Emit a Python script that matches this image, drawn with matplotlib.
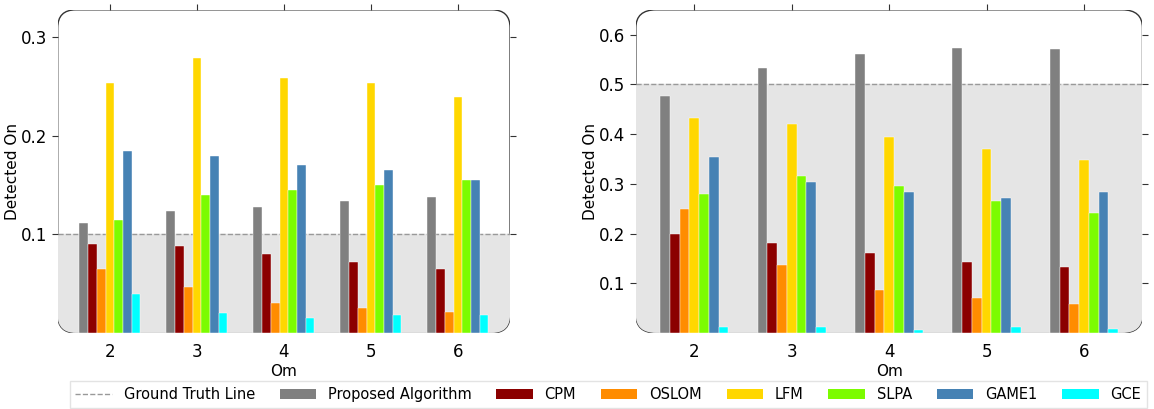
import matplotlib.pyplot as plt
from matplotlib.patches import FancyBboxPatch, Patch
from matplotlib.lines import Line2D
import numpy as np

om_values = [2, 3, 4, 5, 6]
methods = ['Proposed Algorithm', 'CPM', 'OSLOM', 'LFM', 'SLPA', 'GAME1', 'GCE']
colors = ['gray', 'darkred', 'darkorange', 'gold', 'lawngreen', 'steelblue', 'cyan']

# left panel
left_values = {
    'Proposed Algorithm': [0.112, 0.124, 0.128, 0.134, 0.138],
    'CPM': [0.090, 0.088, 0.080, 0.072, 0.065],
    'OSLOM': [0.065, 0.047, 0.030, 0.025, 0.021],
    'LFM': [0.254, 0.279, 0.259, 0.254, 0.239],
    'SLPA': [0.115, 0.140, 0.145, 0.150, 0.155],
    'GAME1': [0.185, 0.180, 0.170, 0.165, 0.155],
    'GCE': [0.040, 0.020, 0.015, 0.018, 0.018],
}
left_truth = 0.1

# right panel
right_values = {
    'Proposed Algorithm': [0.476, 0.533, 0.562, 0.574, 0.571],
    'CPM': [0.200, 0.181, 0.160, 0.142, 0.133],
    'OSLOM': [0.250, 0.137, 0.087, 0.071, 0.059],
    'LFM': [0.433, 0.420, 0.394, 0.370, 0.348],
    'SLPA': [0.279, 0.316, 0.295, 0.265, 0.242],
    'GAME1': [0.354, 0.304, 0.283, 0.271, 0.283],
    'GCE': [0.011, 0.011, 0.005, 0.011, 0.007],
}
right_truth = 0.5

bar_width = 0.1


def draw_panel(ax, values, truth, ylim, yticks):
    ax.set_xlim(1.4, 6.6)
    ax.set_ylim(*ylim)
    ax.patch.set_visible(False)
    for s in ax.spines.values():
        s.set_visible(False)

    # rounded frame, grey band up to the ground truth clipped to it
    box = FancyBboxPatch((0, 0), 1, 1, boxstyle='round,pad=0,rounding_size=0.04',
                         transform=ax.transAxes, facecolor='white',
                         edgecolor='#333333', linewidth=1.0, zorder=0, mutation_aspect=1.4)
    ax.add_patch(box)
    span = ax.axhspan(0, truth, color='#e5e5e5', zorder=0.5)
    span.set_clip_path(box)
    ax.axhline(truth, color='#999999', linestyle='--', linewidth=1.0, zorder=1)

    x = np.array(om_values)
    for i, (name, color) in enumerate(zip(methods, colors)):
        ax.bar(x + (i - 3) * bar_width, values[name], width=bar_width, color=color,
               edgecolor='white', linewidth=0.3, zorder=2)

    ax.set_xticks(om_values)
    ax.set_yticks(yticks)
    ax.tick_params(axis='both', labelsize=12, direction='out', length=4, color='#333333')
    ax.tick_params(axis='x', bottom=False, top=True)
    ax.tick_params(axis='y', right=True)
    ax.set_xlabel('Om', fontsize=11, labelpad=2)
    ax.set_ylabel('Detected On', fontsize=11, labelpad=1)


fig = plt.figure(figsize=(11.54, 4.09), dpi=100)
ax1 = fig.add_axes([0.050, 0.186, 0.392, 0.790])
ax2 = fig.add_axes([0.551, 0.186, 0.439, 0.790])

draw_panel(ax1, left_values, left_truth, (0, 0.328), [0.1, 0.2, 0.3])
draw_panel(ax2, right_values, right_truth, (0, 0.65), [0.1, 0.2, 0.3, 0.4, 0.5, 0.6])

handles = [Line2D([0], [0], color='#999999', linestyle='--', linewidth=1.0)]
handles += [Patch(facecolor=c) for c in colors]
labels = ['Ground Truth Line'] + methods
fig.legend(handles, labels, ncol=8, loc='lower left', mode='expand',
           bbox_to_anchor=(0.059, 0.0, 0.936, 0.064), fontsize=10.5,
           frameon=True, edgecolor='#dddddd', fancybox=False,
           handlelength=2.5, borderaxespad=0.1)

fig.savefig('out.png', dpi=100)
